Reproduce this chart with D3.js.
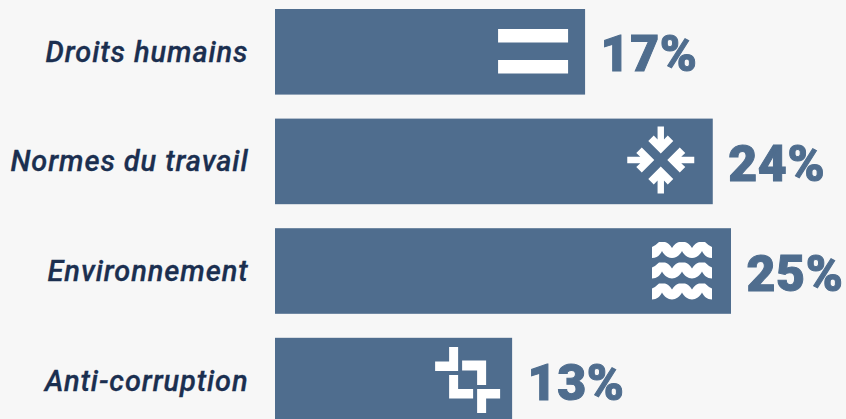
<!DOCTYPE html>
<html>
<head>
<meta charset="utf-8">
<script src="https://cdn.jsdelivr.net/npm/d3@7"></script>
<style>
  html, body { margin: 0; padding: 0; background: #f7f7f7; overflow: hidden; }
  svg { display: block; }
</style>
</head>
<body>
<div id="chart"></div>
<script>
var categories = ["Droits humains", "Normes du travail", "Environnement", "Anti-corruption"];
var values = [17, 24, 25, 13];
var icons = ["equal", "arrows", "waves", "cross"];

var width = 846, height = 419;
var BAR = "#4f6d8e", LABEL = "#1b2f50";

var toile = d3.select("#chart").append("svg")
  .attr("width", width)
  .attr("height", height);

toile.append("rect").attr("width", width).attr("height", height).attr("fill", "#f7f7f7");

var x = d3.scaleLinear().domain([0, 25]).range([275, 731]);
var y = d3.scaleBand().domain(categories).range([9, 423.4]).paddingInner(0.219);

var rows = categories.map(function (c, i) {
  return { name: c, value: values[i], icon: icons[i] };
});

var row = toile.selectAll("g.row").data(rows).enter().append("g").attr("class", "row");

row.append("rect")
  .attr("x", x(0))
  .attr("y", function (d) { return y(d.name); })
  .attr("width", function (d) { return x(d.value) - x(0); })
  .attr("height", y.bandwidth())
  .attr("fill", BAR);

row.append("text")
  .attr("x", x(0) - 26.5)
  .attr("y", function (d) { return y(d.name) + y.bandwidth() / 2 + 10; })
  .attr("text-anchor", "end")
  .attr("font-family", "Roboto, sans-serif")
  .attr("font-style", "italic")
  .attr("font-weight", 500)
  .attr("font-size", "29px")
  .attr("letter-spacing", "0.9px")
  .attr("fill", LABEL)
  .attr("stroke", LABEL)
  .attr("stroke-width", 0.3)
  .text(function (d) { return d.name; });

row.append("text")
  .attr("x", function (d) { return x(d.value) + 15.5; })
  .attr("y", function (d) { return y(d.name) + y.bandwidth() / 2 + 19.5; })
  .attr("font-family", "Roboto, sans-serif")
  .attr("font-weight", 900)
  .attr("font-size", "50px")
  .attr("letter-spacing", "0.6px")
  .attr("fill", BAR)
  .attr("stroke", BAR)
  .attr("stroke-width", 1)
  .text(function (d) { return d.value + "%"; });

// les icones sont placees par rapport au bout de la barre
function drawequal(g) {
  [-22.8, 8.2].forEach(function (top) {
    g.append("rect").attr("x", -87).attr("y", top).attr("width", 70).attr("height", 13.5).attr("fill", "#fff");
  });
}

function drawarrows(g) {
  var c = g.append("g").attr("transform", "translate(-52,-1.4)");
  var arrow = "M0,-6.5L12.5,-19L7,-24.5L3.2,-20.5V-33.5H-3.2V-20.5L-7,-24.5L-12.5,-19Z";
  [0, 90, 180, 270].forEach(function (a) {
    c.append("path").attr("d", arrow).attr("transform", "rotate(" + a + ")").attr("fill", "#fff");
  });
}

function drawwaves(g) {
  var wave = "M0,5Q3,4 7,0H13Q17,1 20,6Q23,1 27,0H33Q37,1 40,6Q43,1 47,0H53Q57,4 60,5V16"
    + "C55,16 52,13 50,9C48,13 44,16 40,16C36,16 32,13 30,9C28,13 24,16 20,16C16,16 12,13 10,9C8,13 5,16 0,16Z";
  [-29, -8.5, 12.5].forEach(function (top) {
    g.append("path").attr("d", wave).attr("transform", "translate(-79," + top + ")").attr("fill", "#fff");
  });
}

function drawcross(g) {
  var c = g.append("g").attr("transform", "translate(-44.5,-0.6)");
  var path = "M-18.5,-33H-9.5V-9H-32.5V-18.5H-18.5Z"
    + "M-5.5,-19.5H18.5V5H9.5V-9.5H-5.5Z"
    + "M-18.5,-5H-9.5V9H5.5V18.5H-18.5Z"
    + "M9.5,9H32.5V18.5H18.5V33H9.5Z";
  c.append("path").attr("d", path).attr("fill", "#fff");
}

var drawicon = { equal: drawequal, arrows: drawarrows, waves: drawwaves, cross: drawcross };

row.each(function (d) {
  var g = d3.select(this).append("g")
    .attr("transform", "translate(" + x(d.value) + "," + (y(d.name) + y.bandwidth() / 2) + ")");
  drawicon[d.icon](g);
});
</script>
</body>
</html>
